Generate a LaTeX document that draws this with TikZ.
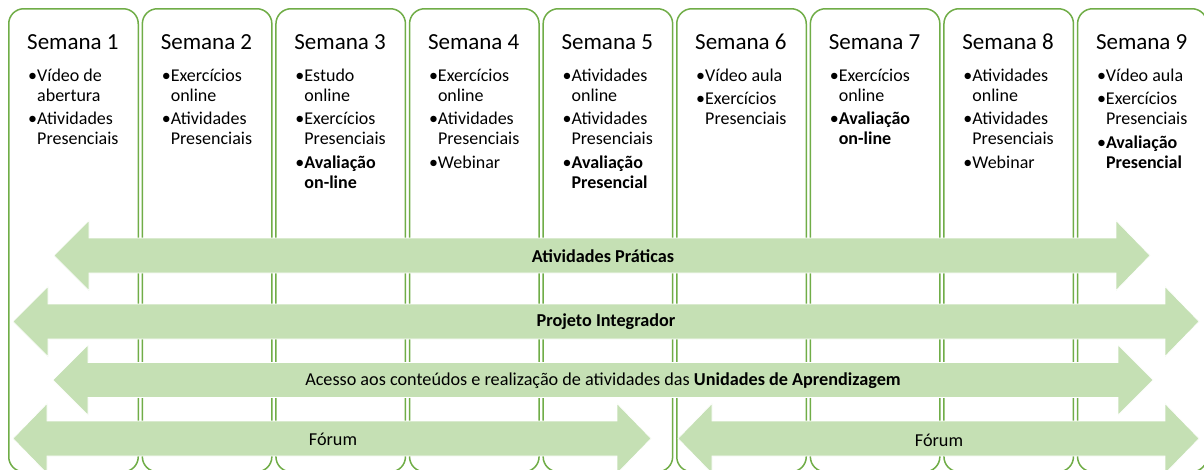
\documentclass[tikz,border=0pt]{standalone}
\usepackage{fontspec}
\setmainfont{Carlito}
\definecolor{boxgreen}{HTML}{70AD47}
\definecolor{arrowfill}{HTML}{C5E0B4}
\newcommand\itm[1]{\par\hangindent=9pt\hangafter=1\noindent\makebox[9pt][l]{•}#1\par}
\newcommand\wklist[1]{\begin{minipage}[t]{115pt}\fontsize{18pt}{20pt}\selectfont\setlength\parskip{3.6pt}#1\end{minipage}}
\tikzset{
  weekbox/.style={draw=boxgreen, line width=1.5pt, rounded corners=15pt, anchor=north west,
    minimum width=129.5pt, minimum height=463pt, inner sep=0pt},
  wktitle/.style={anchor=base west, inner sep=0pt, font=\fontsize{23pt}{26pt}\selectfont},
  wkitems/.style={anchor=base west, inner sep=0pt},
  arrowshape/.style={fill=arrowfill, draw=white, line width=0.6pt},
  arrlabel/.style={inner sep=0pt, font=\fontsize{18.2pt}{21pt}\selectfont},
}
\newcommand\dblarr[6]{%
  \path[arrowshape] (#1,#5) -- (#2,#5-35) -- (#2,#5-17.5) -- (#3,#5-17.5) -- (#3,#5-35) -- (#4,#5)
   -- (#3,#5+35) -- (#3,#5+17.5) -- (#2,#5+17.5) -- (#2,#5+35) -- cycle;
  \coordinate (#6) at ({(#2+#3)/2},#5);}
\begin{document}
\begin{tikzpicture}[x=1pt,y=-1pt]
\useasboundingbox (0,0) rectangle (1204,469);
\fill[white] (0,0) rectangle (1204,469);
\begin{scope}
\clip (0,0) rectangle (1204,469);
\foreach \i in {1,...,9}{
  \node[weekbox] (w\i) at ({8+(\i-1)*133.6},8) {};
  \node[wktitle] (t\i) at ({27+(\i-1)*133.6},49) {Semana \i};
}
\node[wkitems] (l1) at (28,81) {\wklist{\itm{Vídeo de\newline abertura}\itm{Atividades\newline Presenciais}}};
\node[wkitems] (l2) at ({28+1*133.6},81) {\wklist{\itm{Exercícios\newline online}\itm{Atividades\newline Presenciais}}};
\node[wkitems] (l3) at ({28+2*133.6},81) {\wklist{\itm{Estudo\newline online}\itm{Exercícios\newline Presenciais}\itm{\textbf{Avaliação\newline on-line}}}};
\node[wkitems] (l4) at ({28+3*133.6},81) {\wklist{\itm{Exercícios\newline online}\itm{Atividades\newline Presenciais}\itm{Webinar}}};
\node[wkitems] (l5) at ({28+4*133.6},81) {\wklist{\itm{Atividades\newline online}\itm{Atividades\newline Presenciais}\itm{\textbf{Avaliação\newline Presencial}}}};
\node[wkitems] (l6) at ({28+5*133.6},81) {\wklist{\itm{Vídeo aula}\itm{Exercícios\newline Presenciais}}};
\node[wkitems] (l7) at ({28+6*133.6},81) {\wklist{\itm{Exercícios\newline online}\itm{\textbf{Avaliação\newline on-line}}}};
\node[wkitems] (l8) at ({28+7*133.6},81) {\wklist{\itm{Atividades\newline online}\itm{Atividades\newline Presenciais}\itm{Webinar}}};
\node[wkitems] (l9) at ({28+8*133.6},81) {\wklist{\itm{Vídeo aula}\itm{Exercícios\newline Presenciais}\itm{\textbf{Avaliação\newline Presencial}}}};

\dblarr{54}{89}{1116}{1150}{255.5}{a1}
\dblarr{13}{48}{1165}{1199}{321.5}{a2}
\dblarr{53}{88}{1118}{1153}{380}{a3}
\dblarr{13}{47}{617}{651}{438.5}{a4}
\dblarr{678}{712}{1165}{1199}{438.5}{a5}
\end{scope}
\node[arrlabel] (p1) at (603,256) {\textbf{Atividades Práticas}};
\node[arrlabel] (p2) at (606,322) {\textbf{Projeto Integrador}};
\node[arrlabel] (p3) at (603,381) {Acesso aos conteúdos e realização de atividades das \textbf{Unidades de Aprendizagem}};
\node[arrlabel] (p4) at (333,439) {Fórum};
\node[arrlabel] (p5) at (939,440) {Fórum};
\end{tikzpicture}
\end{document}
